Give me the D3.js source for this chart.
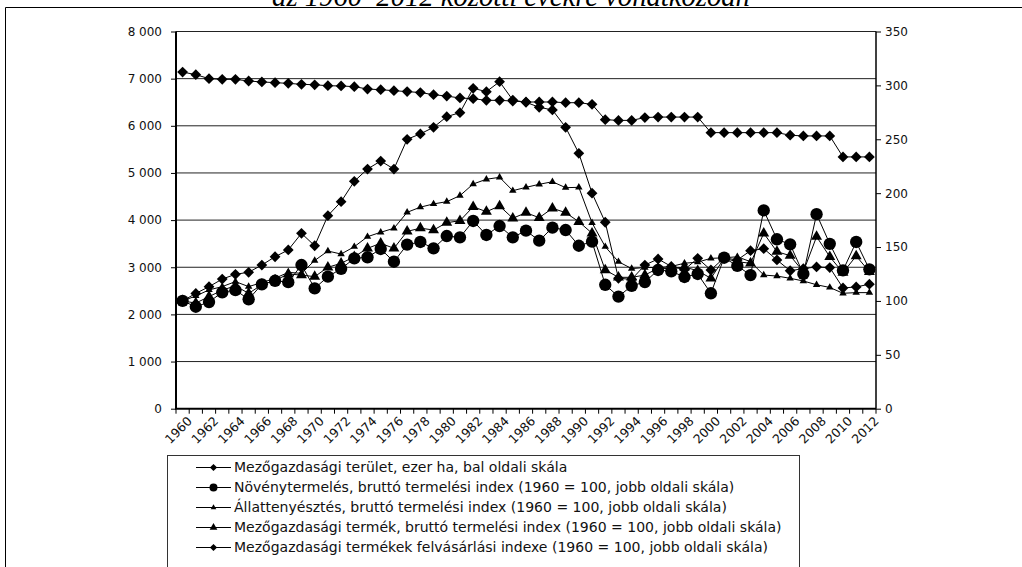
<!DOCTYPE html>
<html>
<head>
<meta charset="utf-8">
<script src="https://cdn.jsdelivr.net/npm/d3@7/dist/d3.min.js"></script>
<style>
  body { margin: 0; background: #fff; }
  svg { display: block; }
</style>
</head>
<body>
<svg id="chart" width="1022" height="567"></svg>
<script>
// Categories: one per year
const years = [1960,1961,1962,1963,1964,1965,1966,1967,1968,1969,
               1970,1971,1972,1973,1974,1975,1976,1977,1978,1979,
               1980,1981,1982,1983,1984,1985,1986,1987,1988,1989,
               1990,1991,1992,1993,1994,1995,1996,1997,1998,1999,
               2000,2001,2002,2003,2004,2005,2006,2007,2008,2009,
               2010,2011,2012];

// Agricultural area, thousand ha (left scale)
const terulet = [7140,7085,7000,6985,6985,6950,6930,6915,6900,6880,
                 6870,6850,6845,6830,6780,6765,6745,6725,6705,6660,
                 6630,6590,6575,6540,6540,6525,6505,6505,6505,6490,
                 6490,6455,6130,6115,6115,6175,6185,6185,6185,6185,
                 5855,5855,5855,5855,5855,5855,5800,5785,5785,5785,
                 5340,5340,5340];

// Crop production, gross output index, 1960 = 100 (right scale)
const noveny = [100,94.6,99,108,110,101.5,115.4,118.7,117.4,133.3,
                111.7,122.5,129.8,139.5,140.5,148.2,136.4,152.2,154.7,148.8,
                160.2,159,174.2,161.2,169.5,159,165.2,155.9,168,165.8,
                151.2,155,115,104,114,117.5,128.7,127.5,122.2,125,
                107.1,140.1,132.5,124,184,157.2,152.5,125,180.5,153,
                128.3,154.7,129.3];

// Animal husbandry, gross output index (right scale)
const allat = [100,104.6,110.2,113.3,117.9,113.3,117,121,126.5,125.6,
               137.5,146.3,143.5,150.3,159.6,163.7,167.4,182.2,187,190,
               192.1,197.7,208.5,212.9,214.7,202.3,205.4,208.2,210.6,205.1,
               205.4,172.5,150.3,136.4,130,131,131,132,135,136,
               139.5,140,141,136.4,124,123.1,121,118.5,115,112.5,
               107.1,107.7,107.7];

// Agricultural products, gross output index (right scale)
const termek = [100,98,104,110,114,107,115,119,125,124,
                122.5,131.2,134.9,141,148.8,153.5,148.8,164.5,167.5,165.8,
                172.6,174.4,187.4,182.8,188.1,176.7,181.9,177.2,186,181.9,
                173.5,162.8,128.7,121.9,121.9,124,130.3,130,131.5,128,
                121,139.5,136.4,134.9,162.8,145.7,142,127.1,159.6,141,
                126.2,141.7,127.1];

// Purchase index of agricultural products (right scale)
const felvasarlas = [100,107,113.2,120.3,124.7,126.6,133.3,141,147.3,162.7,
                     151.2,179.1,192.1,211,222.4,229.8,222.4,250,255,261.1,
                     271,274.7,297.3,294.2,303.4,286.4,284.3,279.7,277.2,261.1,
                     237,200,173,121,120,133.3,138.9,132,129,139.5,
                     128.7,140,138,146.6,148.5,138,128,130,131.5,131,
                     112,113,115.5];

// Axis ticks and their labels
const leftTicks  = [0,1000,2000,3000,4000,5000,6000,7000,8000];
const leftLabels = ["0","1 000","2 000","3 000","4 000","5 000","6 000","7 000","8 000"];
const rightTicks = [0,50,100,150,200,250,300,350];
const xLabelYears = [1960,1962,1964,1966,1968,1970,1972,1974,1976,1978,1980,1982,1984,1986,
                     1988,1990,1992,1994,1996,1998,2000,2002,2004,2006,2008,2010,2012];

const titleText = "az 1960–2012 közötti évekre vonatkozóan";

const legendLabels = [
  "Mezőgazdasági terület, ezer ha, bal oldali skála",
  "Növénytermelés, bruttó termelési index (1960 = 100, jobb oldali skála)",
  "Állattenyésztés, bruttó termelési index (1960 = 100, jobb oldali skála)",
  "Mezőgazdasági termék, bruttó termelési index (1960 = 100, jobb oldali skála)",
  "Mezőgazdasági termékek felvásárlási indexe (1960 = 100, jobb oldali skála)"
];

const svg = d3.select("#chart");
const font = "'DejaVu Sans', Verdana, sans-serif";

// plot area
const L = 176, R = 876, T = 31.5, B = 408.7;

const x = d3.scalePoint().domain(years).range([L, R]).padding(0.5);
const xBand = d3.scaleBand().domain(years).range([L, R]);
const yL = d3.scaleLinear().domain([0, 8000]).range([B, T]);
const yR = d3.scaleLinear().domain([0, 350]).range([B, T]);

// outer frame
svg.append("line").attr("x1", 5.5).attr("x2", 1022).attr("y1", 7.5).attr("y2", 7.5)
  .attr("stroke", "#000").attr("stroke-width", 1);
svg.append("line").attr("x1", 5.5).attr("x2", 5.5).attr("y1", 7.5).attr("y2", 567)
  .attr("stroke", "#000").attr("stroke-width", 1);

// title, running past the top edge of the page
const title = svg.append("text")
  .attr("x", 511).attr("y", 6)
  .attr("text-anchor", "middle")
  .attr("font-family", "'Liberation Serif', 'Times New Roman', serif")
  .attr("font-style", "italic")
  .attr("font-size", 20)
  .text(titleText);
{
  const w = title.node().getComputedTextLength();
  title.attr("font-size", 20 * 478 / w);
}

// horizontal gridlines
svg.append("g").selectAll("line")
  .data(leftTicks.filter(d => d > 0))
  .join("line")
  .attr("x1", L).attr("x2", R)
  .attr("y1", d => yL(d)).attr("y2", d => yL(d))
  .attr("stroke", "#222").attr("stroke-width", 1);

// left axis
const gL = svg.append("g").attr("transform", `translate(${L},0)`)
  .call(d3.axisLeft(yL).tickValues(leftTicks).tickSize(5).tickPadding(9)
    .tickFormat((d, i) => leftLabels[i]));
gL.select(".domain").remove();
gL.selectAll("text").attr("font-family", font).attr("font-size", 12).attr("fill", "#111");
gL.selectAll("line").attr("stroke", "#000");

// right axis
const gR = svg.append("g").attr("transform", `translate(${R},0)`)
  .call(d3.axisRight(yR).tickValues(rightTicks).tickSize(5).tickPadding(4));
gR.select(".domain").remove();
gR.selectAll("text").attr("font-family", font).attr("font-size", 12).attr("fill", "#111");
gR.selectAll("line").attr("stroke", "#000");

// axis lines
svg.append("line").attr("x1", L).attr("x2", L).attr("y1", T).attr("y2", B)
  .attr("stroke", "#000").attr("stroke-width", 2);
svg.append("line").attr("x1", R).attr("x2", R).attr("y1", T).attr("y2", B)
  .attr("stroke", "#000").attr("stroke-width", 1.5);

// category axis: ticks on band boundaries, labels at every second year
const bounds = years.map(d => xBand(d)).concat([xBand(years[years.length - 1]) + xBand.bandwidth()]);
svg.append("g").selectAll("line").data(bounds).join("line")
  .attr("x1", d => d).attr("x2", d => d)
  .attr("y1", B).attr("y2", B + 5)
  .attr("stroke", "#000").attr("stroke-width", 1);
svg.append("line").attr("x1", L - 1).attr("x2", R).attr("y1", B).attr("y2", B)
  .attr("stroke", "#000").attr("stroke-width", 2);
svg.append("g").selectAll("text").data(xLabelYears).join("text")
  .attr("transform", d => `translate(${x(d) + 4},${B + 7}) rotate(-45)`)
  .attr("text-anchor", "end")
  .attr("dy", "0.7em")
  .attr("font-family", font).attr("font-size", 12.5).attr("fill", "#111")
  .text(d => d);

// markers
const diamond = d3.symbol().type(d3.symbolSquare).size(58);
const circle = d3.symbol().type(d3.symbolCircle).size(120);
const triBig = d3.symbol().type(d3.symbolTriangle).size(52);
const triSmall = d3.symbol().type(d3.symbolTriangle).size(24);

const series = [
  { values: terulet, y: yL, shape: diamond, rot: 45 },
  { values: noveny, y: yR, shape: circle, rot: 0 },
  { values: allat, y: yR, shape: triSmall, rot: 0 },
  { values: termek, y: yR, shape: triBig, rot: 0 },
  { values: felvasarlas, y: yR, shape: diamond, rot: 45 }
];

const line = (ys) => d3.line().x((d, i) => x(years[i])).y(d => ys(d));

series.forEach(s => {
  const g = svg.append("g");
  g.append("path").datum(s.values)
    .attr("d", line(s.y))
    .attr("fill", "none").attr("stroke", "#000").attr("stroke-width", 1);
  g.selectAll("path.m").data(s.values).join("path").attr("class", "m")
    .attr("d", s.shape())
    .attr("transform", (d, i) => `translate(${x(years[i])},${s.y(d)}) rotate(${s.rot})`)
    .attr("fill", "#000");
});

// legend
const lg = svg.append("g");
lg.append("rect").attr("x", 167.5).attr("y", 455.5).attr("width", 632).attr("height", 130)
  .attr("fill", "#fff").attr("stroke", "#333").attr("stroke-width", 1);
const legendShapes = [
  { shape: d3.symbol().type(d3.symbolSquare).size(26), rot: 45 },
  { shape: d3.symbol().type(d3.symbolCircle).size(50), rot: 0 },
  { shape: d3.symbol().type(d3.symbolTriangle).size(14), rot: 0 },
  { shape: d3.symbol().type(d3.symbolTriangle).size(26), rot: 0 },
  { shape: d3.symbol().type(d3.symbolSquare).size(26), rot: 45 }
];
const items = lg.selectAll("g.item").data(legendLabels).join("g").attr("class", "item")
  .attr("transform", (d, i) => `translate(0,${467.5 + i * 20})`);
items.append("line").attr("x1", 196).attr("x2", 231).attr("y1", 0).attr("y2", 0)
  .attr("stroke", "#000").attr("stroke-width", 1);
items.append("path")
  .attr("d", (d, i) => legendShapes[i].shape())
  .attr("transform", (d, i) => `translate(213.5,0) rotate(${legendShapes[i].rot})`)
  .attr("fill", "#000");
const ltext = items.append("text").attr("x", 234).attr("y", 0).attr("dy", "0.35em")
  .attr("font-family", font).attr("font-size", 12).attr("fill", "#111")
  .text(d => d);
{
  const w = ltext.nodes()[3].getComputedTextLength();
  ltext.attr("font-size", 12 * 548 / w);
}
</script>
</body>
</html>
